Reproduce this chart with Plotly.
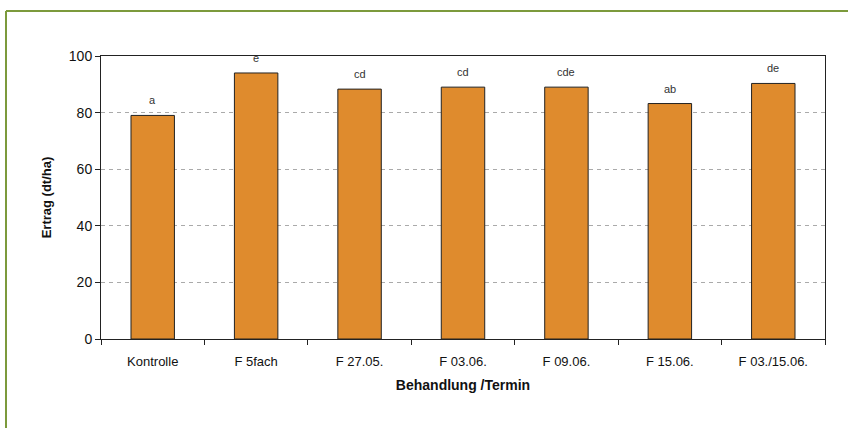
import plotly.graph_objects as go

categories = ["Kontrolle", "F 5fach", "F 27.05.", "F 03.06.", "F 09.06.", "F 15.06.", "F 03./15.06."]
ertrag = [79, 94, 88.3, 89, 89, 83.2, 90.3]
letters = ["a", "e", "cd", "cd", "cde", "ab", "de"]
y_ticks = [0, 20, 40, 60, 80, 100]

fig = go.Figure()
fig.add_trace(go.Bar(
    x=categories, y=ertrag, width=0.42,
    marker=dict(color="#DF8B2D", line=dict(color="#222222", width=1)),
    showlegend=False,
))

for c, v, l in zip(categories, ertrag, letters):
    fig.add_annotation(x=c, y=v, text=l, showarrow=False, yanchor="bottom", yshift=7,
                       font=dict(size=11, color="#333333", family="Liberation Sans, Arial"))

W, H = 848, 428
L, R, T, B = 101, 23, 56, 89
pw, ph = W - L - R, H - T - B

def px(x):
    return (x - L) / pw

def py(y):
    return (H - B - y) / ph

green = "#7C9A3C"
fig.add_shape(type="line", xref="paper", yref="paper", x0=px(6), x1=px(848), y0=py(11), y1=py(11),
              line=dict(color=green, width=2))
fig.add_shape(type="line", xref="paper", yref="paper", x0=px(6), x1=px(6), y0=py(11), y1=py(428),
              line=dict(color=green, width=2))

fig.update_layout(
    width=W, height=H,
    margin=dict(l=L, r=R, t=T, b=B),
    paper_bgcolor="white", plot_bgcolor="white",
    font=dict(family="Liberation Sans, Arial", size=13, color="#111111"),
    bargap=0.58,
)
fig.update_xaxes(
    showline=True, linecolor="#222222", linewidth=1, mirror=True,
    ticks="outside", ticklen=5, tickcolor="#222222", tickson="boundaries",
    tickfont=dict(size=13), ticklabelstandoff=10,
    title=dict(text="<b>Behandlung /Termin</b>", font=dict(size=14), standoff=12),
    showgrid=False,
)
fig.update_yaxes(
    range=[0, 100], tickvals=y_ticks, showline=True, linecolor="#222222", linewidth=1, mirror=True,
    ticks="outside", ticklen=5, tickcolor="#222222",
    tickfont=dict(size=14),
    showgrid=True, gridcolor="#aaaaaa", griddash="4px,4px", gridwidth=1,
    zeroline=False,
    title=dict(text="<b>Ertrag (dt/ha)</b>", font=dict(size=13), standoff=14),
)

fig.write_html("out.html")
